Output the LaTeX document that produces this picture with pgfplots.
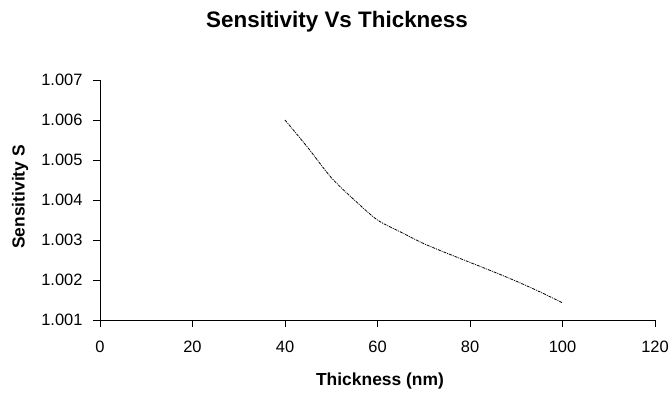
\documentclass[border=0pt]{standalone}
\usepackage{pgfplots}
\pgfplotsset{compat=1.18}
\usepackage{fontspec}
\setmainfont{Liberation Sans}

\pgfplotstableread{
thick sens
40  1.00600
45  1.00530
50  1.00456
55  1.00400
60  1.00350
65  1.00320
70  1.00291
75  1.00267
80  1.00244
85  1.00221
90  1.00197
95  1.00171
100 1.00143
}\senstable

\begin{document}
\begin{tikzpicture}[x=1bp,y=1bp]
\path[use as bounding box] (-100,-74) rectangle (572,320);
\begin{axis}[
  at={(0,0)}, anchor=south west,
  scale only axis, width=555bp, height=240bp,
  xmin=0, xmax=120, ymin=1.001, ymax=1.007,
  xtick={0,20,...,120},
  ytick={1.001,1.002,1.003,1.004,1.005,1.006,1.007},
  axis x line*=bottom, axis y line*=left,
  axis line style={black, line width=0.9bp, -},
  tick align=outside, major tick length=7bp,
  tick style={black, line width=0.9bp},
  every tick label/.append style={font=\fontsize{16.5}{18}\selectfont},
  xticklabel style={yshift=-10bp},
  yticklabel style={xshift=-7bp, /pgf/number format/.cd, fixed, fixed zerofill, precision=3},
  /pgf/number format/assume math mode=true,
  scaled y ticks=false,
  clip=false,
]
\addplot[black, line width=0.8bp, smooth,
  dash pattern=on 3bp off 1bp on 1bp off 1bp] table[x=thick, y=sens] {\senstable};
\end{axis}
\node[font=\bfseries\fontsize{22.5}{24}\selectfont, anchor=base] at (237,293) {Sensitivity Vs Thickness};
\node[font=\bfseries\fontsize{17.5}{19}\selectfont, anchor=base] at (280,-65) {Thickness (nm)};
\node[font=\bfseries\fontsize{17.5}{19}\selectfont, rotate=90, anchor=center] at (-80,123) {Sensitivity S};
\end{tikzpicture}
\end{document}
